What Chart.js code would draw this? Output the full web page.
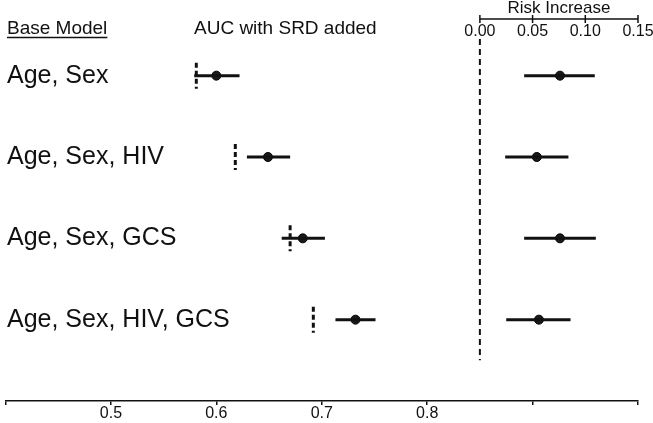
<!DOCTYPE html>
<html>
<head>
<meta charset="utf-8">
<script src="https://cdn.jsdelivr.net/npm/chart.js@4/dist/chart.umd.min.js"></script>
<style>
  body { margin: 0; background: #fff; }
  #wrap { width: 653px; height: 423px; position: relative; }
</style>
</head>
<body>
<div id="wrap"><canvas id="myChart"></canvas></div>
<script>
// filas (modelos base)
const baseModels = ['Age, Sex', 'Age, Sex, HIV', 'Age, Sex, GCS', 'Age, Sex, HIV, GCS'];
const rowPos = [1, 2, 3, 4];

// AUC del modelo base (linea discontinua) y AUC con SRD (punto + IC)
const baseAuc = [0.581, 0.618, 0.670, 0.692];
const srdAuc = [0.600, 0.649, 0.682, 0.732];
const srdAucLow = [0.579, 0.629, 0.662, 0.713];
const srdAucHigh = [0.622, 0.670, 0.703, 0.751];

// aumento de riesgo (punto + IC)
const riskInc = [0.076, 0.054, 0.076, 0.056];
const riskLow = [0.042, 0.024, 0.042, 0.025];
const riskHigh = [0.109, 0.084, 0.110, 0.086];

// ejes
const aucTicks = [0.4, 0.5, 0.6, 0.7, 0.8, 0.9, 1.0];
const aucTickLabels = [0.5, 0.6, 0.7, 0.8];
const riskTicks = [0, 0.05, 0.10, 0.15];
const riskZeroSpan = [0.55, 4.5];

const FONT = "'Liberation Sans', Arial, sans-serif";
const INK = '#111';

const datasets = [];

// lineas discontinuas del AUC base
rowPos.forEach(function (r, i) {
    datasets.push({
        data: [{ x: baseAuc[i], y: r - 0.16 }, { x: baseAuc[i], y: r + 0.16 }],
        showLine: true, borderColor: INK, borderWidth: 3, borderDash: [5, 3],
        pointRadius: 0, xAxisID: 'x'
    });
});

// intervalos AUC
rowPos.forEach(function (r, i) {
    datasets.push({
        data: [{ x: srdAucLow[i], y: r }, { x: srdAucHigh[i], y: r }],
        showLine: true, borderColor: INK, borderWidth: 3,
        pointRadius: 0, xAxisID: 'x'
    });
});

// intervalos riesgo
rowPos.forEach(function (r, i) {
    datasets.push({
        data: [{ x: riskLow[i], y: r }, { x: riskHigh[i], y: r }],
        showLine: true, borderColor: INK, borderWidth: 3,
        pointRadius: 0, xAxisID: 'xRisk'
    });
});

// linea de cero del riesgo
datasets.push({
    data: [{ x: 0, y: riskZeroSpan[0] }, { x: 0, y: riskZeroSpan[1] }],
    showLine: true, borderColor: INK, borderWidth: 2, borderDash: [6, 4],
    pointRadius: 0, xAxisID: 'xRisk'
});

// puntos
datasets.push({
    data: rowPos.map((r, i) => ({ x: srdAuc[i], y: r })),
    pointRadius: 4.5, backgroundColor: '#1a1a1a', borderColor: '#000', borderWidth: 1,
    xAxisID: 'x'
});
datasets.push({
    data: rowPos.map((r, i) => ({ x: riskInc[i], y: r })),
    pointRadius: 4.5, backgroundColor: '#1a1a1a', borderColor: '#000', borderWidth: 1,
    xAxisID: 'xRisk'
});

// textos de cabecera, etiquetas de filas y eje superior de riesgo
const extrasPlugin = {
    id: 'extras',
    afterDraw: function (chart) {
        const ctx = chart.ctx;
        const xr = chart.scales.xRisk;
        const ys = chart.scales.y;
        ctx.save();
        ctx.fillStyle = INK;
        ctx.strokeStyle = INK;
        ctx.textBaseline = 'middle';

        ctx.font = '19px ' + FONT;
        ctx.textAlign = 'left';
        ctx.fillText('Base Model', 7, 29);
        const w = ctx.measureText('Base Model').width;
        ctx.lineWidth = 1.3;
        ctx.beginPath();
        ctx.moveTo(7, 37.5);
        ctx.lineTo(7 + w, 37.5);
        ctx.stroke();
        ctx.fillText('AUC with SRD added', 194, 29);

        // etiquetas de filas
        ctx.font = '25px ' + FONT;
        rowPos.forEach(function (r, i) {
            ctx.fillText(baseModels[i], 7, ys.getPixelForValue(r));
        });

        // eje superior
        const x0 = xr.getPixelForValue(riskTicks[0]);
        const x1 = xr.getPixelForValue(riskTicks[riskTicks.length - 1]);
        ctx.lineWidth = 1.5;
        ctx.beginPath();
        ctx.moveTo(x0, 19);
        ctx.lineTo(x1, 19);
        riskTicks.forEach(function (t) {
            const px = xr.getPixelForValue(t);
            ctx.moveTo(px, 15);
            ctx.lineTo(px, 23);
        });
        ctx.stroke();

        ctx.textAlign = 'center';
        ctx.font = '16px ' + FONT;
        riskTicks.forEach(function (t) {
            ctx.fillText(t.toFixed(2), xr.getPixelForValue(t), 32);
        });
        ctx.font = '17px ' + FONT;
        ctx.fillText('Risk Increase', (x0 + x1) / 2, 8);
        ctx.restore();
    }
};

const ctx = document.getElementById('myChart').getContext('2d');
const myChart = new Chart(ctx, {
    type: 'scatter',
    data: { datasets: datasets },
    plugins: [extrasPlugin],
    options: {
        responsive: true,
        maintainAspectRatio: false,
        animation: false,
        layout: { padding: { left: 2, right: 15, top: 35, bottom: 0 } },
        plugins: { legend: { display: false }, tooltip: { enabled: false } },
        scales: {
            x: {
                type: 'linear', position: 'bottom',
                min: 0.4, max: 1.0,
                afterBuildTicks: function (scale) {
                    scale.ticks = aucTicks.map(v => ({ value: v }));
                },
                grid: { drawOnChartArea: false, drawTicks: true, tickLength: 4, color: INK, lineWidth: 1.5 },
                border: { color: INK, width: 1.5 },
                ticks: {
                    padding: 1, color: INK, font: { family: FONT, size: 16, lineHeight: 1 },
                    autoSkip: false, maxRotation: 0,
                    callback: function (v) { return aucTickLabels.includes(v) ? v.toFixed(1) : ''; }
                }
            },
            xRisk: {
                type: 'linear', display: false,
                min: -0.45, max: 0.15
            },
            y: {
                type: 'linear', reverse: true, display: false,
                min: 0.5, max: 5
            }
        }
    }
});
</script>
</body>
</html>
